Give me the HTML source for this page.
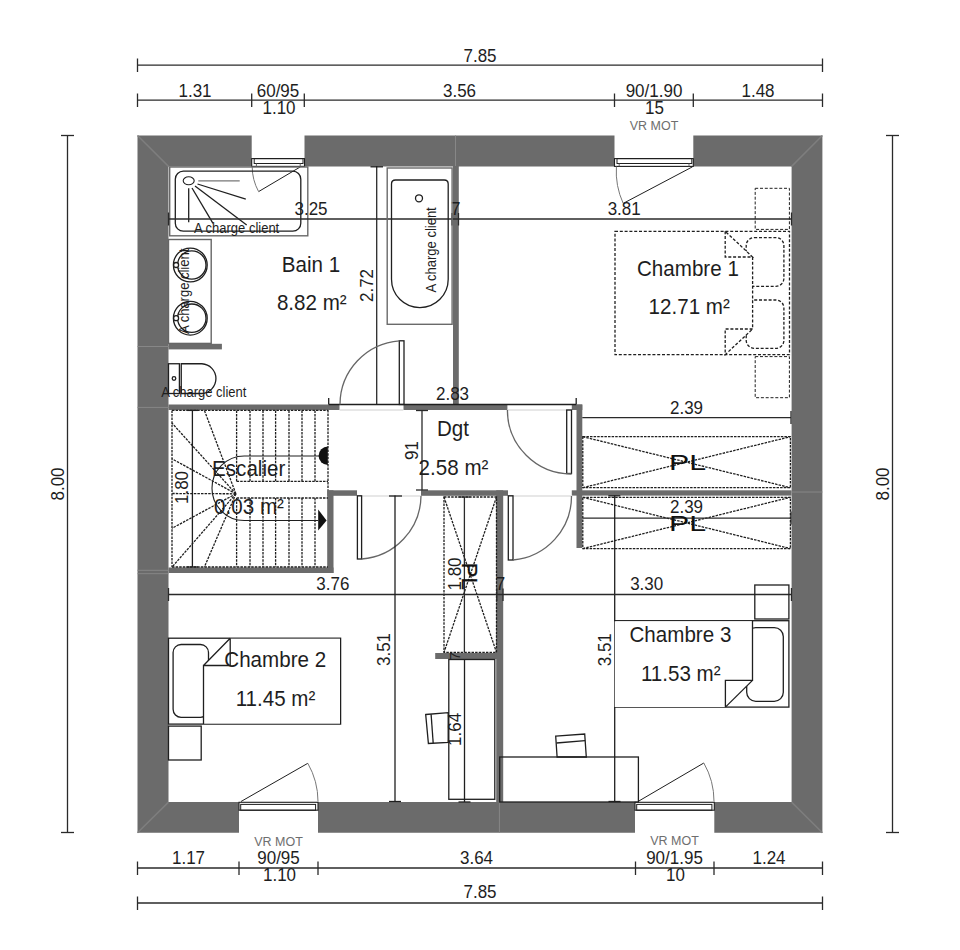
<!DOCTYPE html>
<html><head><meta charset="utf-8"><style>
html,body{margin:0;padding:0;background:#fff;}
svg{display:block;}
text{font-family:"Liberation Sans",sans-serif;}
</style></head><body>
<svg width="960" height="950" viewBox="0 0 960 950">
<rect x="0" y="0" width="960" height="950" fill="#fff"/>
<line x1="137.5" y1="65.2" x2="822.5" y2="65.2" stroke="#2a2a2a" stroke-width="1.3" />
<line x1="137.5" y1="58.5" x2="137.5" y2="72" stroke="#2a2a2a" stroke-width="1.3" />
<line x1="822.5" y1="58.5" x2="822.5" y2="72" stroke="#2a2a2a" stroke-width="1.3" />
<text x="0" y="0" font-size="17" text-anchor="middle" fill="#1e1e1e" transform="translate(480 62) scale(1.0 1.07)" >7.85</text>
<line x1="137.5" y1="100.2" x2="822.5" y2="100.2" stroke="#2a2a2a" stroke-width="1.3" />
<line x1="137.5" y1="93.5" x2="137.5" y2="107" stroke="#2a2a2a" stroke-width="1.3" />
<line x1="822.5" y1="93.5" x2="822.5" y2="107" stroke="#2a2a2a" stroke-width="1.3" />
<line x1="251.7" y1="93.5" x2="251.7" y2="107" stroke="#2a2a2a" stroke-width="1.3" />
<line x1="304.3" y1="93.5" x2="304.3" y2="107" stroke="#2a2a2a" stroke-width="1.3" />
<line x1="614.5" y1="93.5" x2="614.5" y2="107" stroke="#2a2a2a" stroke-width="1.3" />
<line x1="693.3" y1="93.5" x2="693.3" y2="107" stroke="#2a2a2a" stroke-width="1.3" />
<text x="0" y="0" font-size="17" text-anchor="middle" fill="#1e1e1e" transform="translate(195 96.5) scale(1.0 1.07)" >1.31</text>
<text x="0" y="0" font-size="17" text-anchor="middle" fill="#1e1e1e" transform="translate(278 96.5) scale(1.0 1.07)" >60/95</text>
<text x="0" y="0" font-size="17" text-anchor="middle" fill="#1e1e1e" transform="translate(279 114) scale(1.0 1.07)" >1.10</text>
<text x="0" y="0" font-size="17" text-anchor="middle" fill="#1e1e1e" transform="translate(459.5 96.5) scale(1.0 1.07)" >3.56</text>
<text x="0" y="0" font-size="17" text-anchor="middle" fill="#1e1e1e" transform="translate(654 96.5) scale(1.0 1.07)" >90/1.90</text>
<text x="0" y="0" font-size="17" text-anchor="middle" fill="#1e1e1e" transform="translate(654.5 114) scale(1.0 1.07)" >15</text>
<text x="0" y="0" font-size="12.5" text-anchor="middle" fill="#6e6e6e" transform="translate(654 129.5) scale(1.0 1.07)" >VR MOT</text>
<text x="0" y="0" font-size="17" text-anchor="middle" fill="#1e1e1e" transform="translate(758 96.5) scale(1.0 1.07)" >1.48</text>
<line x1="137.5" y1="868" x2="822.5" y2="868" stroke="#2a2a2a" stroke-width="1.3" />
<line x1="137.5" y1="861.5" x2="137.5" y2="875" stroke="#2a2a2a" stroke-width="1.3" />
<line x1="239" y1="861.5" x2="239" y2="875" stroke="#2a2a2a" stroke-width="1.3" />
<line x1="318" y1="861.5" x2="318" y2="875" stroke="#2a2a2a" stroke-width="1.3" />
<line x1="635.5" y1="861.5" x2="635.5" y2="875" stroke="#2a2a2a" stroke-width="1.3" />
<line x1="714" y1="861.5" x2="714" y2="875" stroke="#2a2a2a" stroke-width="1.3" />
<line x1="822.5" y1="861.5" x2="822.5" y2="875" stroke="#2a2a2a" stroke-width="1.3" />
<line x1="137.5" y1="903" x2="822.5" y2="903" stroke="#2a2a2a" stroke-width="1.3" />
<line x1="137.5" y1="896.5" x2="137.5" y2="910" stroke="#2a2a2a" stroke-width="1.3" />
<line x1="822.5" y1="896.5" x2="822.5" y2="910" stroke="#2a2a2a" stroke-width="1.3" />
<text x="0" y="0" font-size="17" text-anchor="middle" fill="#1e1e1e" transform="translate(188.5 863.5) scale(1.0 1.07)" >1.17</text>
<text x="0" y="0" font-size="12.5" text-anchor="middle" fill="#6e6e6e" transform="translate(278.5 846) scale(1.0 1.07)" >VR MOT</text>
<text x="0" y="0" font-size="17" text-anchor="middle" fill="#1e1e1e" transform="translate(278.5 863.5) scale(1.0 1.07)" >90/95</text>
<text x="0" y="0" font-size="17" text-anchor="middle" fill="#1e1e1e" transform="translate(279.5 881) scale(1.0 1.07)" >1.10</text>
<text x="0" y="0" font-size="17" text-anchor="middle" fill="#1e1e1e" transform="translate(476.5 863.5) scale(1.0 1.07)" >3.64</text>
<text x="0" y="0" font-size="12.5" text-anchor="middle" fill="#6e6e6e" transform="translate(674.5 845) scale(1.0 1.07)" >VR MOT</text>
<text x="0" y="0" font-size="17" text-anchor="middle" fill="#1e1e1e" transform="translate(674.5 863.5) scale(1.0 1.07)" >90/1.95</text>
<text x="0" y="0" font-size="17" text-anchor="middle" fill="#1e1e1e" transform="translate(675.5 881) scale(1.0 1.07)" >10</text>
<text x="0" y="0" font-size="17" text-anchor="middle" fill="#1e1e1e" transform="translate(769 863.5) scale(1.0 1.07)" >1.24</text>
<text x="0" y="0" font-size="17" text-anchor="middle" fill="#1e1e1e" transform="translate(480 898) scale(1.0 1.07)" >7.85</text>
<line x1="67.5" y1="135.5" x2="67.5" y2="832.5" stroke="#2a2a2a" stroke-width="1.3" />
<line x1="61" y1="135.5" x2="74" y2="135.5" stroke="#2a2a2a" stroke-width="1.3" />
<line x1="61" y1="832.5" x2="74" y2="832.5" stroke="#2a2a2a" stroke-width="1.3" />
<text x="0" y="0" font-size="17" text-anchor="middle" fill="#1e1e1e" transform="translate(63.5 484) rotate(-90) scale(1.0 1.07)" >8.00</text>
<line x1="892.5" y1="135.5" x2="892.5" y2="832.5" stroke="#2a2a2a" stroke-width="1.3" />
<line x1="886" y1="135.5" x2="899" y2="135.5" stroke="#2a2a2a" stroke-width="1.3" />
<line x1="886" y1="832.5" x2="899" y2="832.5" stroke="#2a2a2a" stroke-width="1.3" />
<text x="0" y="0" font-size="17" text-anchor="middle" fill="#1e1e1e" transform="translate(888.5 484) rotate(-90) scale(1.0 1.07)" >8.00</text>
<path d="M137.5 135.5H822.4V832.8H137.5Z M168.5 166.4V802.1H791.6V166.4Z" fill="#6b6b6b" fill-rule="evenodd"/>
<line x1="137.5" y1="135.5" x2="168.5" y2="166.4" stroke="#7e7e7e" stroke-width="1.5" />
<line x1="822.4" y1="135.5" x2="791.6" y2="166.4" stroke="#7e7e7e" stroke-width="1.5" />
<line x1="137.5" y1="832.8" x2="168.5" y2="802.1" stroke="#7e7e7e" stroke-width="1.5" />
<line x1="822.4" y1="832.8" x2="791.6" y2="802.1" stroke="#7e7e7e" stroke-width="1.5" />
<line x1="137.5" y1="346.5" x2="168.5" y2="346.5" stroke="#878787" stroke-width="1" />
<line x1="137.5" y1="407.4" x2="168.5" y2="407.4" stroke="#878787" stroke-width="1" />
<line x1="137.5" y1="570.3" x2="168.5" y2="570.3" stroke="#878787" stroke-width="1" />
<line x1="137.5" y1="573.7" x2="168.5" y2="573.7" stroke="#878787" stroke-width="1" />
<line x1="455.5" y1="135.5" x2="455.5" y2="166.4" stroke="#878787" stroke-width="1" />
<line x1="791.6" y1="492" x2="822.4" y2="492" stroke="#878787" stroke-width="1" />
<line x1="499.4" y1="802.1" x2="499.4" y2="832.8" stroke="#878787" stroke-width="1" />
<rect x="251.7" y="134" width="52.80000000000001" height="32" fill="#fff"/>
<rect x="614.5" y="134" width="78.79999999999995" height="32" fill="#fff"/>
<rect x="239" y="802" width="79" height="32" fill="#fff"/>
<rect x="635" y="802" width="79.29999999999995" height="32" fill="#fff"/>
<rect x="251.7" y="158.6" width="52.80000000000001" height="7.800000000000011" fill="none" stroke="#1f1f1f" stroke-width="1.1" />
<rect x="254.2" y="158.6" width="48.80000000000001" height="4.900000000000006" fill="none" stroke="#1f1f1f" stroke-width="1.0" />
<line x1="256.4" y1="163.5" x2="256.4" y2="166.4" stroke="#666" stroke-width="1" />
<line x1="300.2" y1="163.5" x2="300.2" y2="166.4" stroke="#666" stroke-width="1" />
<rect x="614.5" y="158.6" width="78.79999999999995" height="7.800000000000011" fill="none" stroke="#1f1f1f" stroke-width="1.1" />
<rect x="617.0" y="158.6" width="74.79999999999995" height="4.900000000000006" fill="none" stroke="#1f1f1f" stroke-width="1.0" />
<line x1="619.2" y1="163.5" x2="619.2" y2="166.4" stroke="#666" stroke-width="1" />
<line x1="689.0" y1="163.5" x2="689.0" y2="166.4" stroke="#666" stroke-width="1" />
<rect x="239" y="802.3" width="79" height="7.900000000000091" fill="none" stroke="#1f1f1f" stroke-width="1.1" />
<rect x="240.7" y="804.4" width="74.90000000000003" height="5.800000000000068" fill="none" stroke="#1f1f1f" stroke-width="1.0" />
<rect x="635" y="802.3" width="79.29999999999995" height="7.900000000000091" fill="none" stroke="#1f1f1f" stroke-width="1.1" />
<rect x="636.7" y="804.4" width="75.19999999999993" height="5.800000000000068" fill="none" stroke="#1f1f1f" stroke-width="1.0" />
<line x1="300.5" y1="166.8" x2="258.6" y2="191.6" stroke="#1f1f1f" stroke-width="1" />
<path d="M258.6 191.6 A52 52 0 0 1 252.2 166.6" fill="none" stroke="#777" stroke-width="1" />
<line x1="692.5" y1="166.8" x2="623.2" y2="203.4" stroke="#1f1f1f" stroke-width="1" />
<path d="M623.2 203.4 A77 77 0 0 1 616.4 166.6" fill="none" stroke="#777" stroke-width="1" />
<line x1="241" y1="801.5" x2="307.8" y2="763.3" stroke="#1f1f1f" stroke-width="1" />
<path d="M307.8 763.3 A77 77 0 0 1 318 801.5" fill="none" stroke="#777" stroke-width="1" />
<line x1="638" y1="801.5" x2="703.8" y2="763" stroke="#1f1f1f" stroke-width="1" />
<path d="M703.8 763 A77 77 0 0 1 714 801.5" fill="none" stroke="#777" stroke-width="1" />
<rect x="453" y="166" width="5.800000000000011" height="238.5" fill="#6b6b6b"/>
<rect x="168.5" y="343.8" width="53.400000000000006" height="5.599999999999966" fill="#6b6b6b"/>
<rect x="168.5" y="404.5" width="171.2" height="5.5" fill="#6b6b6b"/>
<rect x="403.3" y="404.5" width="104.09999999999997" height="5.5" fill="#6b6b6b"/>
<rect x="571.8" y="404.5" width="10.5" height="5.5" fill="#6b6b6b"/>
<rect x="576.5" y="404.5" width="5.7999999999999545" height="143.5" fill="#6b6b6b"/>
<rect x="327.2" y="490.3" width="6.300000000000011" height="82.69999999999999" fill="#6b6b6b"/>
<rect x="168.5" y="567.5" width="165.0" height="5.5" fill="#6b6b6b"/>
<rect x="327.2" y="490.3" width="29.80000000000001" height="5.5" fill="#6b6b6b"/>
<rect x="421" y="490.3" width="87" height="5.5" fill="#6b6b6b"/>
<rect x="571.8" y="490.3" width="219.70000000000005" height="5.300000000000011" fill="#6b6b6b"/>
<rect x="496.2" y="490.3" width="7.0" height="311.7" fill="#6b6b6b"/>
<rect x="435.2" y="653" width="67.80000000000001" height="6" fill="#6b6b6b"/>
<rect x="169.7" y="167" width="138.10000000000002" height="68.80000000000001" fill="none" stroke="#6a6a6a" stroke-width="1.4" />
<rect x="175.3" y="171.2" width="125.5" height="60" rx="8" fill="none" stroke="#1f1f1f" stroke-width="1.3"/>
<ellipse cx="188.7" cy="180.8" rx="5.5" ry="4" fill="none" stroke="#1f1f1f" stroke-width="1.1"/>
<line x1="198.3" y1="180.8" x2="239.7" y2="180.8" stroke="#777" stroke-width="1.2" />
<line x1="197.5" y1="184" x2="245.8" y2="199.2" stroke="#1f1f1f" stroke-width="1.3" />
<line x1="195" y1="186" x2="246.7" y2="225" stroke="#1f1f1f" stroke-width="1.3" />
<line x1="192" y1="188" x2="213" y2="223.3" stroke="#1f1f1f" stroke-width="1.3" />
<line x1="188.7" y1="188.3" x2="188.7" y2="222.2" stroke="#1f1f1f" stroke-width="1.3" />
<text x="0" y="0" font-size="13" text-anchor="start" fill="#1e1e1e" transform="translate(194 232.5) scale(1.0 1.07)" >A charge client</text>
<line x1="168.5" y1="219" x2="791.5" y2="219" stroke="#2a2a2a" stroke-width="1.3" />
<line x1="168.5" y1="212.5" x2="168.5" y2="225.5" stroke="#2a2a2a" stroke-width="1.3" />
<line x1="452" y1="213" x2="452" y2="225.5" stroke="#2a2a2a" stroke-width="1.3" />
<line x1="458.5" y1="213" x2="458.5" y2="225.5" stroke="#2a2a2a" stroke-width="1.3" />
<line x1="791.5" y1="212.5" x2="791.5" y2="225.5" stroke="#2a2a2a" stroke-width="1.3" />
<text x="0" y="0" font-size="17" text-anchor="middle" fill="#1e1e1e" transform="translate(311 214.5) scale(1.0 1.07)" >3.25</text>
<text x="0" y="0" font-size="17" text-anchor="middle" fill="#1e1e1e" transform="translate(455.6 215.3) scale(1.0 1.07)" >7</text>
<text x="0" y="0" font-size="17" text-anchor="middle" fill="#1e1e1e" transform="translate(624.2 214.9) scale(1.0 1.07)" >3.81</text>
<rect x="168.5" y="239.5" width="42.69999999999999" height="103.89999999999998" fill="none" stroke="#666" stroke-width="1.4" />
<circle cx="190.3" cy="265" r="16.9" fill="none" stroke="#1f1f1f" stroke-width="1.3"/>
<circle cx="191.8" cy="265" r="14.2" fill="none" stroke="#1f1f1f" stroke-width="1.3"/>
<circle cx="176.1" cy="265" r="2.5" fill="#fff" stroke="#1f1f1f" stroke-width="1.3"/>
<circle cx="190.3" cy="318.2" r="16.9" fill="none" stroke="#1f1f1f" stroke-width="1.3"/>
<circle cx="191.8" cy="318.2" r="14.2" fill="none" stroke="#1f1f1f" stroke-width="1.3"/>
<circle cx="176.1" cy="318.2" r="2.5" fill="#fff" stroke="#1f1f1f" stroke-width="1.3"/>
<text x="0" y="0" font-size="13" text-anchor="start" fill="#1e1e1e" transform="translate(189.4 333.9) rotate(-90) scale(1.0 1.07)" >A charge client</text>
<rect x="168.5" y="363.75" width="10.900000000000006" height="29.75" fill="none" stroke="#1f1f1f" stroke-width="1.3" />
<path d="M181.25 363.75 H201.9 A14.9 14.9 0 0 1 201.9 393.5 H181.25 Z" fill="none" stroke="#1f1f1f" stroke-width="1.3" />
<circle cx="174" cy="378.5" r="1.8" fill="none" stroke="#1f1f1f" stroke-width="1.3"/>
<text x="0" y="0" font-size="13" text-anchor="start" fill="#1e1e1e" transform="translate(161.2 397.3) scale(1.0 1.07)" >A charge client</text>
<rect x="387.2" y="168" width="64.90000000000003" height="156.3" fill="none" stroke="#6a6a6a" stroke-width="1.4" />
<path d="M391.5 184 Q391.5 180 395.5 180 H444.2 Q448.2 180 448.2 184 V279.2 A28.35 28.35 0 0 1 391.5 279.2 Z" fill="none" stroke="#1f1f1f" stroke-width="1.3" />
<circle cx="419" cy="198.3" r="3.5" fill="none" stroke="#1f1f1f" stroke-width="1.3"/>
<text x="0" y="0" font-size="13" text-anchor="start" fill="#1e1e1e" transform="translate(436 292.5) rotate(-90) scale(1.0 1.07)" >A charge client</text>
<line x1="376.7" y1="166" x2="376.7" y2="404.5" stroke="#2a2a2a" stroke-width="1.3" />
<text x="0" y="0" font-size="17" text-anchor="middle" fill="#1e1e1e" transform="translate(373 285.5) rotate(-90) scale(1.0 1.07)" >2.72</text>
<text x="0" y="0" font-size="20" text-anchor="middle" fill="#1e1e1e" transform="translate(311 271.9) scale(1.03 1.07)" >Bain 1</text>
<text x="0" y="0" font-size="20" text-anchor="middle" fill="#1e1e1e" transform="translate(311.8 309.8) scale(1.03 1.07)" >8.82 m²</text>
<rect x="339.7" y="404.5" width="63.60000000000002" height="5.5" fill="#fff"/>
<line x1="328.7" y1="404.5" x2="576.2" y2="404.5" stroke="#1f1f1f" stroke-width="1.3" />
<line x1="328.7" y1="398" x2="328.7" y2="404.5" stroke="#1f1f1f" stroke-width="1.3" />
<line x1="576.2" y1="398" x2="576.2" y2="404.5" stroke="#1f1f1f" stroke-width="1.3" />
<line x1="339.7" y1="410" x2="403.3" y2="410" stroke="#cfcfcf" stroke-width="1" />
<rect x="399.3" y="340.8" width="4.699999999999989" height="63.69999999999999" fill="none" stroke="#1f1f1f" stroke-width="1.3" />
<path d="M399.5 340.8 A64 64 0 0 0 340 404.5" fill="none" stroke="#666" stroke-width="1.3" />
<text x="0" y="0" font-size="17" text-anchor="middle" fill="#1e1e1e" transform="translate(452.5 400) scale(1.0 1.07)" >2.83</text>
<line x1="328" y1="410" x2="328" y2="490.3" stroke="#1f1f1f" stroke-width="1.3" stroke-dasharray="2.5 1.1"/>
<line x1="422" y1="410" x2="422" y2="490.3" stroke="#2a2a2a" stroke-width="1.3" />
<line x1="416" y1="410.5" x2="428" y2="410.5" stroke="#2a2a2a" stroke-width="1.3" />
<line x1="416" y1="490" x2="428" y2="490" stroke="#2a2a2a" stroke-width="1.3" />
<text x="0" y="0" font-size="17" text-anchor="middle" fill="#1e1e1e" transform="translate(418 450.6) rotate(-90) scale(1.0 1.07)" >91</text>
<text x="0" y="0" font-size="20" text-anchor="middle" fill="#1e1e1e" transform="translate(453 436.4) scale(1.03 1.07)" >Dgt</text>
<text x="0" y="0" font-size="20" text-anchor="middle" fill="#1e1e1e" transform="translate(453.5 474.8) scale(1.03 1.07)" >2.58 m²</text>
<line x1="507.4" y1="410" x2="571.8" y2="410" stroke="#cfcfcf" stroke-width="1" />
<rect x="566.7" y="410" width="4.7999999999999545" height="63.5" fill="none" stroke="#1f1f1f" stroke-width="1.3" />
<path d="M507.4 410 A64 64 0 0 0 571.5 474" fill="none" stroke="#666" stroke-width="1.3" />
<line x1="508" y1="496" x2="571.8" y2="496" stroke="#cfcfcf" stroke-width="1" />
<rect x="508.3" y="495.8" width="4.699999999999989" height="64.19999999999999" fill="none" stroke="#1f1f1f" stroke-width="1.3" />
<path d="M513 560 A64 64 0 0 0 571.5 496" fill="none" stroke="#666" stroke-width="1.3" />
<line x1="357" y1="496" x2="421" y2="496" stroke="#cfcfcf" stroke-width="1" />
<rect x="357.4" y="495.8" width="4.2000000000000455" height="63.19999999999999" fill="none" stroke="#1f1f1f" stroke-width="1.3" />
<path d="M361.6 559 A64 64 0 0 0 421 496" fill="none" stroke="#666" stroke-width="1.3" />
<line x1="582.3" y1="417.6" x2="791" y2="417.6" stroke="#2a2a2a" stroke-width="1.3" />
<line x1="791" y1="411" x2="791" y2="424" stroke="#2a2a2a" stroke-width="1.3" />
<text x="0" y="0" font-size="17" text-anchor="middle" fill="#1e1e1e" transform="translate(686.5 413.5) scale(1.0 1.07)" >2.39</text>
<rect x="582.8" y="436.7" width="207.60000000000002" height="51.0" fill="none" stroke="#1f1f1f" stroke-width="1.3" stroke-dasharray="2.5 1.1"/>
<line x1="582.8" y1="436.7" x2="790.4" y2="487.7" stroke="#1f1f1f" stroke-width="1.3" stroke-dasharray="2.5 1.1"/>
<line x1="582.8" y1="487.7" x2="790.4" y2="436.7" stroke="#1f1f1f" stroke-width="1.3" stroke-dasharray="2.5 1.1"/>
<rect x="582.8" y="497.3" width="207.60000000000002" height="51.30000000000001" fill="none" stroke="#1f1f1f" stroke-width="1.3" stroke-dasharray="2.5 1.1"/>
<line x1="582.8" y1="497.3" x2="790.4" y2="548.6" stroke="#1f1f1f" stroke-width="1.3" stroke-dasharray="2.5 1.1"/>
<line x1="582.8" y1="548.6" x2="790.4" y2="497.3" stroke="#1f1f1f" stroke-width="1.3" stroke-dasharray="2.5 1.1"/>
<line x1="582.3" y1="518.2" x2="791" y2="518.2" stroke="#2a2a2a" stroke-width="1.3" />
<line x1="791" y1="511.5" x2="791" y2="524.5" stroke="#2a2a2a" stroke-width="1.3" />
<text x="0" y="0" font-size="17" text-anchor="middle" fill="#1e1e1e" transform="translate(686.5 513.4) scale(1.0 1.07)" >2.39</text>
<text x="0" y="0" font-size="22" fill="#111" transform="translate(687.6 470.1) scale(1.38 1)" text-anchor="middle">PL</text>
<text x="0" y="0" font-size="22" fill="#111" transform="translate(687.6 530.8) scale(1.38 1)" text-anchor="middle">PL</text>
<line x1="614.7" y1="495.6" x2="614.7" y2="802" stroke="#1f1f1f" stroke-width="1.3" />
<line x1="608.3" y1="495.8" x2="620.3" y2="495.8" stroke="#1f1f1f" stroke-width="1.3" />
<rect x="444" y="497" width="52.5" height="155.39999999999998" fill="none" stroke="#1f1f1f" stroke-width="1.3" stroke-dasharray="2.5 1.1"/>
<line x1="444" y1="497" x2="496.5" y2="652.4" stroke="#1f1f1f" stroke-width="1.3" stroke-dasharray="2.5 1.1"/>
<line x1="496.5" y1="497" x2="444" y2="652.4" stroke="#1f1f1f" stroke-width="1.3" stroke-dasharray="2.5 1.1"/>
<line x1="464.4" y1="497" x2="464.4" y2="652.4" stroke="#2a2a2a" stroke-width="1.3" />
<line x1="458.4" y1="497" x2="470.4" y2="497" stroke="#2a2a2a" stroke-width="1.3" />
<text x="0" y="0" font-size="17" text-anchor="middle" fill="#1e1e1e" transform="translate(461 574) rotate(-90) scale(1.0 1.07)" >1.80</text>
<text x="0" y="0" font-size="22" fill="#111" stroke="#111" stroke-width="0.3" transform="translate(462.3 576.2) rotate(90)" text-anchor="middle">PL</text>
<text x="0" y="0" font-size="17" text-anchor="middle" fill="#1e1e1e" transform="translate(500.5 590) scale(1.0 1.07)" >7</text>
<line x1="172" y1="410.4" x2="172" y2="567" stroke="#1f1f1f" stroke-width="1.3" stroke-dasharray="2.5 1.1"/>
<line x1="172" y1="410.4" x2="328" y2="410.4" stroke="#1f1f1f" stroke-width="1.3" stroke-dasharray="2.5 1.1"/>
<line x1="172" y1="567" x2="328" y2="567" stroke="#1f1f1f" stroke-width="1.3" stroke-dasharray="2.5 1.1"/>
<line x1="236.6" y1="410.4" x2="236.6" y2="481.4" stroke="#1f1f1f" stroke-width="1.3" stroke-dasharray="2.5 1.1"/>
<line x1="236.6" y1="498" x2="236.6" y2="567" stroke="#1f1f1f" stroke-width="1.3" stroke-dasharray="2.5 1.1"/>
<line x1="250" y1="410.4" x2="250" y2="481.4" stroke="#1f1f1f" stroke-width="1.3" stroke-dasharray="2.5 1.1"/>
<line x1="250" y1="498" x2="250" y2="567" stroke="#1f1f1f" stroke-width="1.3" stroke-dasharray="2.5 1.1"/>
<line x1="263" y1="410.4" x2="263" y2="481.4" stroke="#1f1f1f" stroke-width="1.3" stroke-dasharray="2.5 1.1"/>
<line x1="263" y1="498" x2="263" y2="567" stroke="#1f1f1f" stroke-width="1.3" stroke-dasharray="2.5 1.1"/>
<line x1="275.6" y1="410.4" x2="275.6" y2="481.4" stroke="#1f1f1f" stroke-width="1.3" stroke-dasharray="2.5 1.1"/>
<line x1="275.6" y1="498" x2="275.6" y2="567" stroke="#1f1f1f" stroke-width="1.3" stroke-dasharray="2.5 1.1"/>
<line x1="289" y1="410.4" x2="289" y2="481.4" stroke="#1f1f1f" stroke-width="1.3" stroke-dasharray="2.5 1.1"/>
<line x1="289" y1="498" x2="289" y2="567" stroke="#1f1f1f" stroke-width="1.3" stroke-dasharray="2.5 1.1"/>
<line x1="302" y1="410.4" x2="302" y2="481.4" stroke="#1f1f1f" stroke-width="1.3" stroke-dasharray="2.5 1.1"/>
<line x1="302" y1="498" x2="302" y2="567" stroke="#1f1f1f" stroke-width="1.3" stroke-dasharray="2.5 1.1"/>
<line x1="315" y1="410.4" x2="315" y2="481.4" stroke="#1f1f1f" stroke-width="1.3" stroke-dasharray="2.5 1.1"/>
<line x1="315" y1="498" x2="315" y2="567" stroke="#1f1f1f" stroke-width="1.3" stroke-dasharray="2.5 1.1"/>
<line x1="236.6" y1="481.4" x2="328" y2="481.4" stroke="#1f1f1f" stroke-width="1.3" stroke-dasharray="2.5 1.1"/>
<line x1="236.6" y1="498" x2="328" y2="498" stroke="#1f1f1f" stroke-width="1.3" stroke-dasharray="2.5 1.1"/>
<line x1="235.9" y1="493.8" x2="204.4" y2="410.4" stroke="#1f1f1f" stroke-width="1.3" stroke-dasharray="2.5 1.1"/>
<line x1="235.9" y1="493.8" x2="171.8" y2="422.9" stroke="#1f1f1f" stroke-width="1.3" stroke-dasharray="2.5 1.1"/>
<line x1="235.9" y1="493.8" x2="171.8" y2="458.7" stroke="#1f1f1f" stroke-width="1.3" stroke-dasharray="2.5 1.1"/>
<line x1="235.9" y1="493.8" x2="171.8" y2="493.5" stroke="#1f1f1f" stroke-width="1.3" stroke-dasharray="2.5 1.1"/>
<line x1="235.9" y1="493.8" x2="171.8" y2="528.4" stroke="#1f1f1f" stroke-width="1.3" stroke-dasharray="2.5 1.1"/>
<line x1="235.9" y1="493.8" x2="172.2" y2="566.9" stroke="#1f1f1f" stroke-width="1.3" stroke-dasharray="2.5 1.1"/>
<line x1="235.9" y1="493.8" x2="204.4" y2="567" stroke="#1f1f1f" stroke-width="1.3" stroke-dasharray="2.5 1.1"/>
<path d="M320 456 H244.2 A32.25 32.25 0 0 0 244.2 520.5 H318" fill="none" stroke="#1f1f1f" stroke-width="1.1" />
<path d="M318.2 509.5 L326.6 520.5 L318.2 530.5 Z" fill="#111" stroke="none" stroke-width="0" />
<path d="M327.8 446.6 A9.2 9.2 0 0 0 327.8 465 Z" fill="#111" stroke="none" stroke-width="0" />
<line x1="192.4" y1="410.4" x2="192.4" y2="567" stroke="#1f1f1f" stroke-width="1.3" />
<line x1="186.5" y1="410.4" x2="198" y2="410.4" stroke="#1f1f1f" stroke-width="1.3" />
<line x1="186.5" y1="567" x2="198" y2="567" stroke="#1f1f1f" stroke-width="1.3" />
<text x="0" y="0" font-size="17" text-anchor="middle" fill="#1e1e1e" transform="translate(188 487.5) rotate(-90) scale(1.0 1.07)" >1.80</text>
<text x="0" y="0" font-size="20" text-anchor="middle" fill="#1e1e1e" transform="translate(248.7 475.6) scale(1.03 1.07)" >Escalier</text>
<text x="0" y="0" font-size="20" text-anchor="middle" fill="#1e1e1e" transform="translate(249 514.0) scale(1.03 1.07)" >0.03 m²</text>
<line x1="168.5" y1="594.5" x2="791.5" y2="594.5" stroke="#2a2a2a" stroke-width="1.3" />
<line x1="168.5" y1="588" x2="168.5" y2="601" stroke="#2a2a2a" stroke-width="1.3" />
<line x1="496.8" y1="588.5" x2="496.8" y2="601" stroke="#2a2a2a" stroke-width="1.3" />
<line x1="503" y1="588.5" x2="503" y2="601" stroke="#2a2a2a" stroke-width="1.3" />
<line x1="791.5" y1="588" x2="791.5" y2="601" stroke="#2a2a2a" stroke-width="1.3" />
<text x="0" y="0" font-size="17" text-anchor="middle" fill="#1e1e1e" transform="translate(332.8 590.2) scale(1.0 1.07)" >3.76</text>
<text x="0" y="0" font-size="17" text-anchor="middle" fill="#1e1e1e" transform="translate(646.7 590.1) scale(1.0 1.07)" >3.30</text>
<line x1="395" y1="495.6" x2="395" y2="802" stroke="#1f1f1f" stroke-width="1.3" />
<line x1="389" y1="496" x2="402" y2="496" stroke="#1f1f1f" stroke-width="1.3" />
<text x="0" y="0" font-size="17" text-anchor="middle" fill="#1e1e1e" transform="translate(390.4 649.5) rotate(-90) scale(1.0 1.07)" >3.51</text>
<rect x="168.5" y="638.2" width="172.10000000000002" height="85.89999999999998" fill="none" stroke="#1f1f1f" stroke-width="1.3" />
<rect x="173.1" y="644.5" width="35.4" height="72.8" rx="8" fill="none" stroke="#1f1f1f" stroke-width="1.3"/>
<path d="M203.5 665.5 L230.2 638.8 H340 V723.5 H203.5 Z" fill="#fff" stroke="none"/>
<path d="M203.5 724.1 V665.5 H230.2 V638.2 M203.5 665.5 L230.2 638.2" fill="none" stroke="#1f1f1f" stroke-width="1.3" />
<rect x="168.5" y="726.1" width="32.69999999999999" height="33.89999999999998" fill="none" stroke="#1f1f1f" stroke-width="1.3" />
<text x="0" y="0" font-size="20" text-anchor="middle" fill="#1e1e1e" transform="translate(275.2 667.1) scale(1.03 1.07)" >Chambre 2</text>
<text x="0" y="0" font-size="20" text-anchor="middle" fill="#1e1e1e" transform="translate(275.5 705.8) scale(1.03 1.07)" >11.45 m²</text>
<rect x="448.8" y="659.5" width="46.0" height="139.79999999999995" fill="none" stroke="#1f1f1f" stroke-width="1.3" />
<line x1="464.5" y1="659" x2="464.5" y2="802" stroke="#1f1f1f" stroke-width="1.3" />
<line x1="458.5" y1="802" x2="470.5" y2="802" stroke="#1f1f1f" stroke-width="1.3" />
<text x="0" y="0" font-size="17" text-anchor="middle" fill="#1e1e1e" transform="translate(461 729.4) rotate(-90) scale(1.0 1.07)" >1.64</text>
<path d="M425.7 714.5 L448.2 712.6 L448.2 742.4 L428.4 743.5 Z" fill="none" stroke="#1f1f1f" stroke-width="1.3" />
<line x1="431.1" y1="714.2" x2="433.2" y2="743.2" stroke="#1f1f1f" stroke-width="1.3" />
<text x="0" y="0" font-size="15" fill="#222" transform="translate(460.3 656) rotate(-90)" text-anchor="middle">7</text>
<rect x="499.7" y="757" width="138.7" height="45" fill="none" stroke="#1f1f1f" stroke-width="1.3" />
<path d="M555.7 736.2 L584.7 734 L586.3 757 L557.1 757 Z" fill="none" stroke="#1f1f1f" stroke-width="1.3" />
<line x1="556.5" y1="743" x2="585.2" y2="740.6" stroke="#1f1f1f" stroke-width="1.3" />
<rect x="754.8" y="585" width="34.10000000000002" height="34" fill="none" stroke="#1f1f1f" stroke-width="1.3" />
<rect x="614.7" y="620.7" width="174.19999999999993" height="86.39999999999998" fill="none" stroke="#1f1f1f" stroke-width="1.3" />
<rect x="746.7" y="627.6" width="36.6" height="73.7" rx="9" fill="none" stroke="#1f1f1f" stroke-width="1.3"/>
<path d="M614.7 621.2 H752.5 V680.4 L725.4 707.1 H614.7" fill="#fff" stroke="none"/>
<path d="M752.5 620.7 V680.4 H725.4 V707.1" fill="none" stroke="#1f1f1f" stroke-width="1.3" />
<line x1="725.4" y1="707.1" x2="752.5" y2="680.4" stroke="#1f1f1f" stroke-width="1.3" />
<text x="0" y="0" font-size="20" text-anchor="middle" fill="#1e1e1e" transform="translate(680.4 641.7) scale(1.03 1.07)" >Chambre 3</text>
<text x="0" y="0" font-size="20" text-anchor="middle" fill="#1e1e1e" transform="translate(680.75 680.6) scale(1.03 1.07)" >11.53 m²</text>
<text x="0" y="0" font-size="17" text-anchor="middle" fill="#1e1e1e" transform="translate(611.3 649.75) rotate(-90) scale(1.0 1.07)" >3.51</text>
<rect x="615" y="231.3" width="174.5" height="123.39999999999998" fill="none" stroke="#1f1f1f" stroke-width="1.3" stroke-dasharray="3 1.8"/>
<rect x="746.2" y="237.6" width="37.7" height="48.7" rx="8" fill="none" stroke="#1f1f1f" stroke-width="1.3" stroke-dasharray="3 1.8"/>
<rect x="746.2" y="300" width="37.7" height="48.3" rx="8" fill="none" stroke="#1f1f1f" stroke-width="1.3" stroke-dasharray="3 1.8"/>
<path d="M616 232 H725.2 L752.6 257 V329 L725.2 354 H616 Z" fill="#fff" stroke="none"/>
<path d="M725.2 231.3 V257 H752.6 L725.2 231.3 M752.6 257 V329 H725.2 V354.7 L752.6 329" fill="none" stroke="#1f1f1f" stroke-width="1.3" stroke-dasharray="3 1.8"/>
<rect x="755.2" y="188.3" width="34.19999999999993" height="41.099999999999994" fill="none" stroke="#1f1f1f" stroke-width="1" stroke-dasharray="3 1.8"/>
<rect x="755.2" y="356.6" width="34.19999999999993" height="41.099999999999966" fill="none" stroke="#1f1f1f" stroke-width="1" stroke-dasharray="3 1.8"/>
<text x="0" y="0" font-size="20" text-anchor="middle" fill="#1e1e1e" transform="translate(687.9 275.9) scale(1.03 1.07)" >Chambre 1</text>
<text x="0" y="0" font-size="20" text-anchor="middle" fill="#1e1e1e" transform="translate(689.2 314.0) scale(1.03 1.07)" >12.71 m²</text>
<line x1="389" y1="801.5" x2="401" y2="801.5" stroke="#1f1f1f" stroke-width="1.3" />
<line x1="608.5" y1="801.5" x2="620.5" y2="801.5" stroke="#1f1f1f" stroke-width="1.3" />
<line x1="370.5" y1="166.8" x2="383" y2="166.8" stroke="#1f1f1f" stroke-width="1.3" />
</svg></body></html>
